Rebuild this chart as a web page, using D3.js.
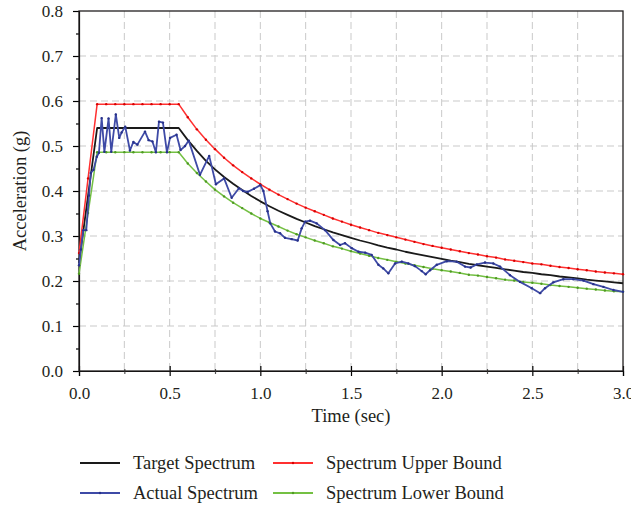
<!DOCTYPE html>
<html>
<head>
<meta charset="utf-8">
<script src="https://cdn.jsdelivr.net/npm/d3@7"></script>
<style>
  body { margin: 0; background: #fff; }
  svg, text { font-family: "Liberation Serif", "Times New Roman", serif; fill: #231f20; }
</style>
</head>
<body>
<script>
// periods (sec) shared by the target spectrum and its bounds
const periods = [
  0, 0.05, 0.1, 0.15, 0.2, 0.25, 0.3, 0.35, 0.4, 0.45, 0.5, 0.55,
  0.6, 0.65, 0.7, 0.75, 0.8, 0.85, 0.9, 0.95, 1.0, 1.05, 1.1, 1.15,
  1.2, 1.25, 1.3, 1.35, 1.4, 1.45, 1.5, 1.55, 1.6, 1.65, 1.7, 1.75,
  1.8, 1.85, 1.9, 1.95, 2.0, 2.05, 2.1, 2.15, 2.2, 2.25, 2.3, 2.35,
  2.4, 2.45, 2.5, 2.55, 2.6, 2.65, 2.7, 2.75, 2.8, 2.85, 2.9, 2.95, 3.0
];
const targetSpectrum = [
  0.240, 0.390, 0.540, 0.540, 0.540, 0.540, 0.540, 0.540, 0.540, 0.540, 0.540, 0.540,
  0.513, 0.489, 0.467, 0.448, 0.431, 0.416, 0.402, 0.389, 0.377, 0.366, 0.356, 0.347,
  0.338, 0.330, 0.322, 0.315, 0.308, 0.302, 0.296, 0.290, 0.285, 0.279, 0.274, 0.270,
  0.265, 0.261, 0.257, 0.253, 0.249, 0.245, 0.242, 0.238, 0.235, 0.232, 0.229, 0.226,
  0.223, 0.220, 0.218, 0.215, 0.213, 0.210, 0.208, 0.206, 0.203, 0.201, 0.199, 0.197, 0.195
];
const upperBound = [
  0.262, 0.428, 0.593, 0.593, 0.593, 0.593, 0.593, 0.593, 0.593, 0.593, 0.593, 0.593,
  0.564, 0.537, 0.514, 0.493, 0.474, 0.457, 0.442, 0.428, 0.415, 0.403, 0.392, 0.382,
  0.372, 0.363, 0.355, 0.347, 0.339, 0.332, 0.325, 0.319, 0.313, 0.307, 0.302, 0.297,
  0.292, 0.287, 0.282, 0.278, 0.274, 0.270, 0.266, 0.262, 0.259, 0.255, 0.252, 0.248,
  0.245, 0.242, 0.239, 0.237, 0.234, 0.231, 0.229, 0.226, 0.224, 0.221, 0.219, 0.217, 0.215
];
const lowerBound = [
  0.216, 0.351, 0.486, 0.486, 0.486, 0.486, 0.486, 0.486, 0.486, 0.486, 0.486, 0.486,
  0.461, 0.440, 0.421, 0.403, 0.388, 0.374, 0.362, 0.350, 0.339, 0.330, 0.321, 0.312,
  0.304, 0.297, 0.290, 0.284, 0.277, 0.272, 0.266, 0.261, 0.256, 0.251, 0.247, 0.243,
  0.239, 0.235, 0.231, 0.227, 0.224, 0.221, 0.218, 0.214, 0.212, 0.209, 0.206, 0.203,
  0.201, 0.198, 0.196, 0.194, 0.191, 0.189, 0.187, 0.185, 0.183, 0.181, 0.179, 0.177, 0.176
];

// actual (matched record) spectrum
const actualPeriods = [
  0, 0.01, 0.024, 0.04, 0.055, 0.065, 0.08, 0.098, 0.11, 0.125, 0.14, 0.163,
  0.178, 0.203, 0.222, 0.235, 0.255, 0.281, 0.3, 0.322, 0.364, 0.384, 0.405, 0.424,
  0.441, 0.463, 0.485, 0.502, 0.538, 0.56, 0.585, 0.605, 0.667, 0.718, 0.755, 0.8,
  0.842, 0.882, 0.905, 0.93, 0.965, 1.0, 1.017, 1.04, 1.055, 1.081, 1.109, 1.136,
  1.173, 1.206, 1.228, 1.247, 1.274, 1.311, 1.357, 1.403, 1.44, 1.467, 1.504, 1.541,
  1.578, 1.614, 1.651, 1.678, 1.706, 1.743, 1.78, 1.816, 1.853, 1.89, 1.912, 1.936,
  1.973, 2.028, 2.083, 2.129, 2.16, 2.194, 2.239, 2.285, 2.322, 2.377, 2.432, 2.497,
  2.543, 2.57, 2.616, 2.671, 2.726, 2.782, 2.837, 2.892, 2.947, 3.0
];
const actualSpectrum = [
  0.235, 0.270, 0.313, 0.313, 0.390, 0.440, 0.447, 0.476, 0.485, 0.562, 0.487, 0.561,
  0.487, 0.570, 0.518, 0.530, 0.543, 0.490, 0.509, 0.503, 0.532, 0.513, 0.510, 0.486,
  0.554, 0.552, 0.486, 0.518, 0.525, 0.491, 0.500, 0.512, 0.436, 0.478, 0.415, 0.428,
  0.385, 0.406, 0.400, 0.398, 0.405, 0.413, 0.400, 0.355, 0.328, 0.310, 0.306, 0.296,
  0.293, 0.290, 0.317, 0.332, 0.334, 0.328, 0.313, 0.291, 0.280, 0.284, 0.273, 0.265,
  0.263, 0.258, 0.236, 0.228, 0.217, 0.239, 0.243, 0.239, 0.233, 0.222, 0.215, 0.224,
  0.236, 0.244, 0.243, 0.232, 0.230, 0.237, 0.241, 0.239, 0.232, 0.213, 0.198, 0.184,
  0.173, 0.184, 0.197, 0.204, 0.204, 0.201, 0.193, 0.187, 0.180, 0.176
];

const xTicks = [0, 0.5, 1.0, 1.5, 2.0, 2.5, 3.0];
const xMinorTicks = [0.25, 0.75, 1.25, 1.75, 2.25, 2.75];
const yTicks = [0, 0.1, 0.2, 0.3, 0.4, 0.5, 0.6, 0.7, 0.8];
const yMinorTicks = [0.05, 0.15, 0.25, 0.35, 0.45, 0.55, 0.65, 0.75];

const width = 631;
const height = 506;

const x = d3.scaleLinear().domain([0, 3]).range([79, 623]);
const y = d3.scaleLinear().domain([0, 0.8]).range([371, 11]);

const svg = d3.select("body").append("svg")
  .attr("width", width)
  .attr("height", height);

// dashed grid
const grid = svg.append("g")
  .attr("stroke", "#c9c9c9")
  .attr("stroke-width", 1)
  .attr("stroke-dasharray", "7,4");
grid.selectAll(".gx")
  .data(xTicks.concat(xMinorTicks).filter(d => d > 0 && d < 3))
  .join("line")
  .attr("x1", d => x(d)).attr("x2", d => x(d))
  .attr("y1", y(0.8)).attr("y2", y(0));
grid.selectAll(".gy")
  .data(yTicks.filter(d => d > 0 && d < 0.8))
  .join("line")
  .attr("x1", x(0)).attr("x2", x(3))
  .attr("y1", d => y(d)).attr("y2", d => y(d));

// axes (drop d3's default sans-serif so the serif face applies)
const fmt = d3.format(".1f");
const plain = g => g.attr("font-family", null).attr("font-size", 17);
svg.append("g")
  .attr("transform", `translate(${x(0)},0)`)
  .call(d3.axisLeft(y).tickValues(yTicks).tickFormat(fmt).tickSize(6).tickPadding(10))
  .call(plain);
svg.append("g")
  .attr("transform", `translate(${x(0)},0)`)
  .call(d3.axisLeft(y).tickValues(yMinorTicks).tickFormat("").tickSize(3))
  .call(g => g.select(".domain").remove());

const xAxis = svg.append("g")
  .attr("transform", `translate(0,${y(0)})`)
  .call(d3.axisBottom(x).tickValues(xTicks).tickFormat(fmt).tickSize(5).tickPadding(11))
  .call(plain);
xAxis.selectAll(".tick line").attr("y1", -5);
svg.append("g")
  .attr("transform", `translate(0,${y(0)})`)
  .call(d3.axisBottom(x).tickValues(xMinorTicks).tickFormat("").tickSize(3))
  .call(g => g.select(".domain").remove())
  .selectAll(".tick line").attr("y1", -2).attr("stroke", "#555");

svg.selectAll(".tick text").attr("fill", "#231f20");
svg.selectAll(".domain, .tick line").attr("stroke-width", 1.2);

// frame
svg.append("rect")
  .attr("x", x(0)).attr("y", y(0.8))
  .attr("width", x(3) - x(0)).attr("height", y(0) - y(0.8))
  .attr("fill", "none")
  .attr("stroke", "#231f20")
  .attr("stroke-width", 1.3);

// axis titles
svg.append("text")
  .attr("x", (x(0) + x(3)) / 2)
  .attr("y", 422)
  .attr("text-anchor", "middle")
  .attr("font-size", 18.5)
  .text("Time (sec)");
svg.append("text")
  .attr("transform", `translate(26,${(y(0) + y(0.8)) / 2}) rotate(-90)`)
  .attr("text-anchor", "middle")
  .attr("font-size", 18.5)
  .text("Acceleration (g)");

// series
const series = [
  { name: "Target Spectrum", xs: periods, ys: targetSpectrum, color: "#1a1a1a", dot: null, w: 1.8 },
  { name: "Spectrum Upper Bound", xs: periods, ys: upperBound, color: "#ff3030", dot: "#d80000", w: 1.5 },
  { name: "Spectrum Lower Bound", xs: periods, ys: lowerBound, color: "#74c043", dot: "#4e9a22", w: 1.5 },
  { name: "Actual Spectrum", xs: actualPeriods, ys: actualSpectrum, color: "#3e4aa6", dot: "#27318a", w: 1.8 }
];

const line = d3.line().x(d => x(d[0])).y(d => y(d[1]));

series.forEach(s => {
  const pts = s.xs.map((t, i) => [t, s.ys[i]]);
  svg.append("path")
    .datum(pts)
    .attr("fill", "none")
    .attr("stroke", s.color)
    .attr("stroke-width", s.w)
    .attr("stroke-linejoin", "round")
    .attr("d", line);
  if (s.dot) {
    svg.append("g").selectAll("circle")
      .data(pts)
      .join("circle")
      .attr("cx", d => x(d[0]))
      .attr("cy", d => y(d[1]))
      .attr("r", 1.2)
      .attr("fill", s.dot);
  }
});

// legend: two columns, two rows
const legendItems = [
  { s: series[0], lx: 80, ly: 463 },
  { s: series[1], lx: 273, ly: 463 },
  { s: series[3], lx: 80, ly: 493 },
  { s: series[2], lx: 273, ly: 493 }
];
const legend = svg.append("g");
legendItems.forEach(it => {
  legend.append("line")
    .attr("x1", it.lx).attr("x2", it.lx + 40)
    .attr("y1", it.ly).attr("y2", it.ly)
    .attr("stroke", it.s.color)
    .attr("stroke-width", it.s.w + 0.3);
  if (it.s.dot) {
    legend.append("circle")
      .attr("cx", it.lx + 20).attr("cy", it.ly).attr("r", 1.2)
      .attr("fill", it.s.dot);
  }
  legend.append("text")
    .attr("x", it.lx + 53)
    .attr("y", it.ly + 6)
    .attr("font-size", 18.5)
    .text(it.s.name);
});
</script>
</body>
</html>
